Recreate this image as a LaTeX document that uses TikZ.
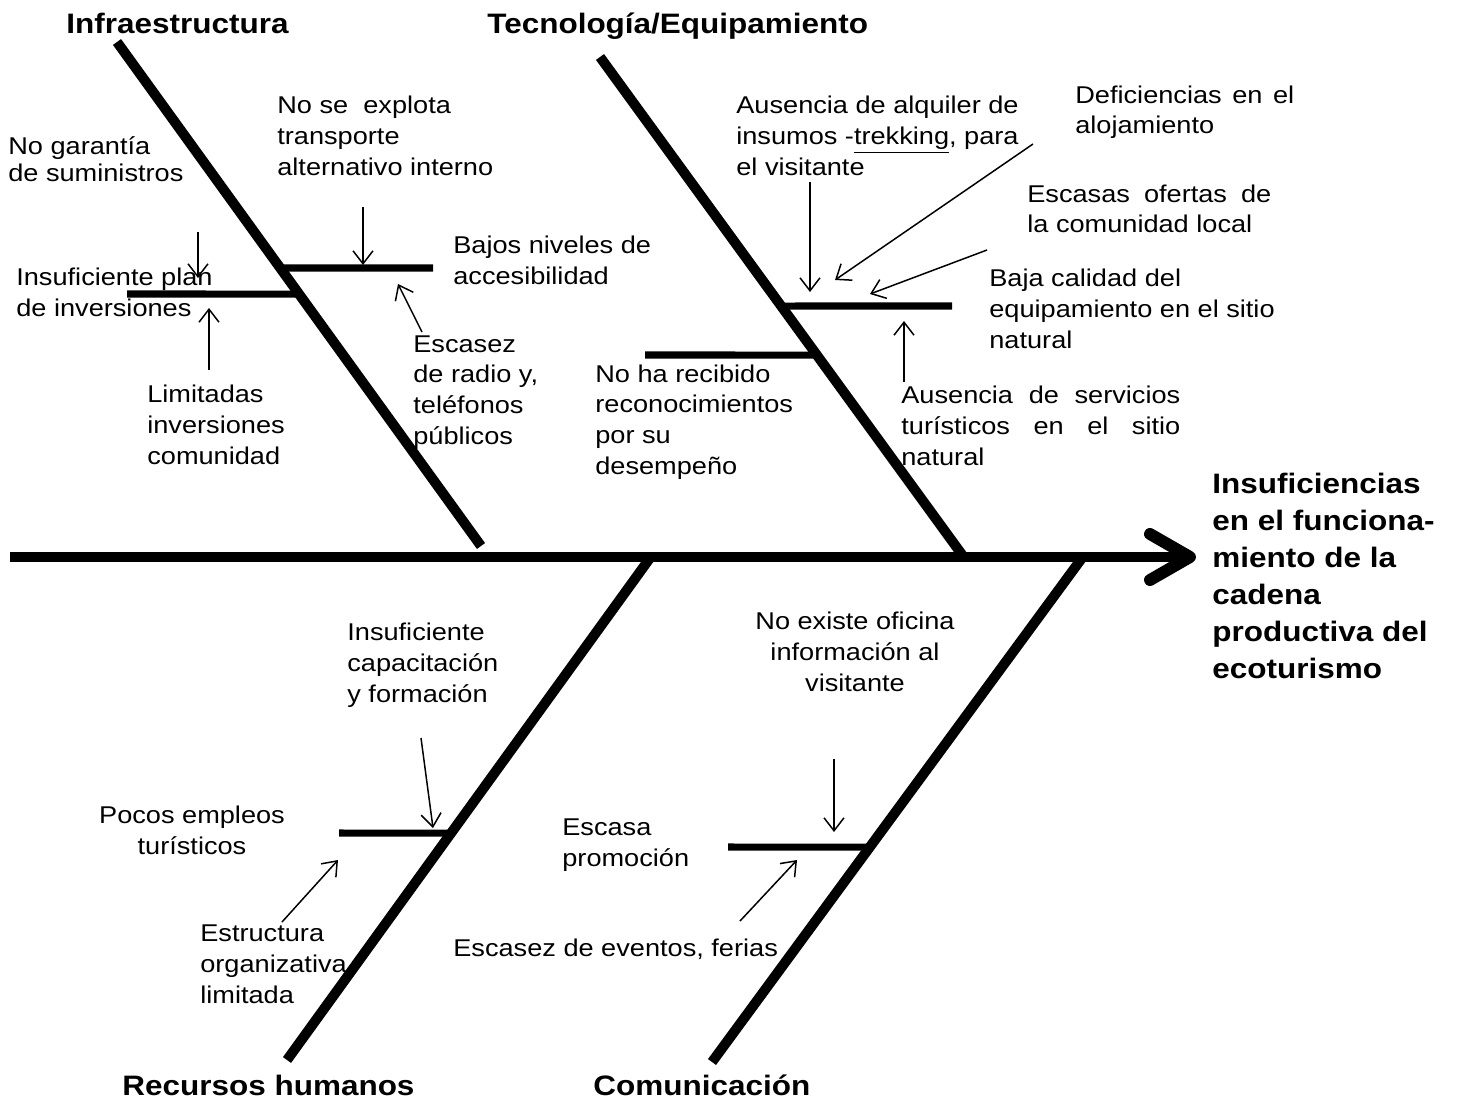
\documentclass[tikz,border=0pt]{standalone}
\usepackage{fontspec}
\setmainfont[FakeStretch=1.12]{Liberation Sans}
\usetikzlibrary{arrows.meta}
\tikzset{
  spine/.style={line width=6.2pt},
  bone/.style={line width=5.7pt},
  subbone/.style={line width=4pt},
  cause/.style={-{Straight Barb[length=2.6mm,width=4mm]},line width=.85pt},
  txt/.style={anchor=base west,inner sep=0pt,align=left,font=\fontsize{13.8}{17.4}\selectfont},
  categ/.style={anchor=base west,inner sep=0pt,font=\bfseries\fontsize{16}{19}\selectfont},
  effect/.style={anchor=base west,inner sep=0pt,align=left,font=\bfseries\fontsize{16}{21}\selectfont},
}

\begin{document}
\begin{tikzpicture}[x=0.02cm,y=-0.02cm]
  \useasboundingbox (0,0) rectangle (1459,1108);
  % spine and head
  \coordinate (tail) at (10,557);
  \coordinate (tip) at (1190,557);
  \coordinate (wingup) at (1150,534);
  \coordinate (wingdn) at (1150,580);
  \draw[spine] (tail) -- (tip);
  \draw[line width=6.8pt,line cap=round,line join=round] (wingup) -- (tip) -- (wingdn);
  % main bones
  \coordinate (infratop) at (117,42);
  \coordinate (infrabot) at (481,546);
  \coordinate (tectop) at (600,57);
  \coordinate (tecbot) at (963,556);
  \coordinate (rhtop) at (650,558);
  \coordinate (rhbot) at (287,1060);
  \coordinate (comtop) at (1082,558);
  \coordinate (combot) at (712,1062);
  \draw[bone] (infratop) -- (infrabot);
  \draw[bone] (tectop) -- (tecbot);
  \draw[bone] (rhtop) -- (rhbot);
  \draw[bone] (comtop) -- (combot);
  % sub-bones
  \coordinate (infraA) at (433,268);
  \coordinate (infraB) at (127,294);
  \coordinate (tecA) at (952,306);
  \coordinate (tecB) at (645,355);
  \coordinate (rhA) at (339,833);
  \coordinate (comA) at (728,847);
  \draw[subbone] (intersection of infratop--infrabot and infraA--0,268) -- (infraA);
  \draw[subbone] (infraB) -- (intersection of infratop--infrabot and infraB--1459,294);
  \draw[subbone] (intersection of tectop--tecbot and tecA--0,306) -- (tecA);
  \draw[subbone] (tecB) -- (intersection of tectop--tecbot and tecB--1459,355);
  \draw[subbone] (rhA) -- (intersection of rhtop--rhbot and rhA--1459,833);
  \draw[subbone] (comA) -- (intersection of comtop--combot and comA--1459,847);
  % categories
  \node[categ] (infra) at (66,34) {Infraestructura};
  \node[categ] (tec) at (487,34) {Tecnología/Equipamiento};
  \node[categ] (rh) at (122,1095) {Recursos humanos};
  \node[categ] (com) at (593,1095) {Comunicación};
  \node[effect] (efecto) at (1212,678) {Insuficiencias\\en el funciona-\\miento de la\\cadena\\productiva del\\ecoturismo};
  % causes
  \node[txt,font=\fontsize{13.8}{15.4}\selectfont] (nogar) at (8,182) {No garantía\\de suministros};
  \node[txt] (noexp) at (277,175) {No se\ \ explota\\transporte\\alternativo interno};
  \node[txt] (bajos) at (453,284) {Bajos niveles de\\accesibilidad};
  \node[txt] (insplan) at (16,316) {Insuficiente plan\\de inversiones};
  \node[txt] (limit) at (147,464) {Limitadas\\inversiones\\comunidad};
  \node[txt] (escradio) at (413,444) {Escasez\\de radio y,\\teléfonos\\públicos};
  \node[txt] (ausalq) at (736,175) {Ausencia de alquiler de\\insumos -\underline{trekking}, para\\el visitante};
  \node[txt] (defic) at (1075,134) {\makebox[4.38cm][s]{Deficiencias en el}\\alojamiento};
  \node[txt] (escof) at (1027,233) {\makebox[4.88cm][s]{Escasas ofertas de}\\la comunidad local};
  \node[txt] (bajacal) at (989,348) {Baja calidad del\\equipamiento en el sitio\\natural};
  \node[txt] (ausserv) at (901,465) {\makebox[5.58cm][s]{Ausencia de servicios}\\\makebox[5.58cm][s]{turísticos en el sitio}\\natural};
  \node[txt] (noha) at (595,474) {No ha recibido\\reconocimientos\\por su\\desempeño};
  \node[txt] (inscap) at (347,702) {Insuficiente\\capacitación\\y formación};
  \node[txt,anchor=base,align=center] (pocos) at (192,854) {Pocos empleos\\turísticos};
  \node[txt] (estruc) at (200,1003) {Estructura\\organizativa\\limitada};
  \node[txt,anchor=base,align=center] (noexist) at (855,691) {No existe oficina\\información al\\visitante};
  \node[txt] (escprom) at (562,866) {Escasa\\promoción};
  \node[txt] (esceven) at (453,956) {Escasez de eventos, ferias};
  % cause arrows
  \coordinate (a1s) at (198,232); \coordinate (a1e) at (198,278);
  \coordinate (a2s) at (209,370); \coordinate (a2e) at (209,308);
  \coordinate (a3s) at (363,207); \coordinate (a3e) at (363,265);
  \coordinate (a4s) at (422,332); \coordinate (a4e) at (398,284);
  \coordinate (a5s) at (810,182); \coordinate (a5e) at (810,292);
  \coordinate (a6s) at (1033,144); \coordinate (a6e) at (835,280);
  \coordinate (a7s) at (987,250); \coordinate (a7e) at (870,294);
  \coordinate (a8s) at (904,382); \coordinate (a8e) at (904,321);
  \coordinate (a9s) at (421,738); \coordinate (a9e) at (433,828);
  \coordinate (a10s) at (282,922); \coordinate (a10e) at (338,860);
  \coordinate (a11s) at (834,759); \coordinate (a11e) at (834,832);
  \coordinate (a12s) at (740,921); \coordinate (a12e) at (797,860);
  \foreach \i in {1,...,12}
    \draw[cause] (a\i s) -- (a\i e);
\end{tikzpicture}
\end{document}
